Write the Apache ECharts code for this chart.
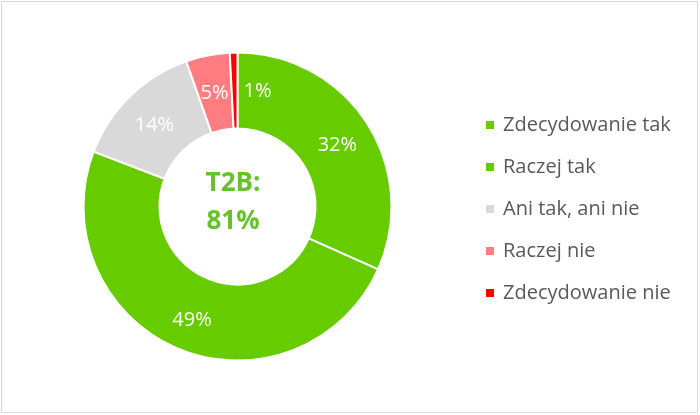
<!DOCTYPE html>
<html><head><meta charset="utf-8">
<script src="https://cdn.jsdelivr.net/npm/echarts@6/dist/echarts.min.js"></script>
<style>html,body{margin:0;padding:0;background:#fff}#c{width:700px;height:415px}</style>
</head><body><div id="c"></div>
<script>
const categories = ['Zdecydowanie tak', 'Raczej tak', 'Ani tak, ani nie', 'Raczej nie', 'Zdecydowanie nie'];
const values = [31.7, 49.1, 13.8, 4.6, 0.8];
const shownLabels = ['32%', '49%', '14%', '5%', '1%'];
const colors = ['#66CC00', '#66CC00', '#D9D9D9', '#FF7C80', '#FF0000'];
const centerText = 'T2B:\n81%';

const chart = echarts.init(document.getElementById('c'), null, {renderer: 'canvas'});
const font = '"Open Sans", sans-serif';
chart.setOption({
  animation: false,
  graphic: [{
    type: 'rect', shape: {x: 1.5, y: 1.5, width: 696, height: 411},
    style: {fill: 'none', stroke: '#D9D9D9', lineWidth: 1}
  }, {
    type: 'text', x: 233, y: 165,
    style: {text: centerText, fill: '#66C22A', font: 'bold 26px ' + font,
      align: 'center', verticalAlign: 'top', lineHeight: 38}
  }],
  legend: {
    orient: 'vertical', left: 479, top: 110, itemGap: 22,
    itemWidth: 10, itemHeight: 10, icon: 'rect',
    textStyle: {color: '#595959', fontSize: 20, fontFamily: font, padding: [0, 0, 0, 3]},
    data: categories
  },
  series: [{
    type: 'pie', center: [237.5, 206.5], radius: [78, 154],
    startAngle: 90, clockwise: true,
    itemStyle: {borderColor: '#fff', borderWidth: 2},
    label: {position: 'inside', color: '#fff', fontSize: 20, fontFamily: font, offset: [0, 4],
      formatter: p => shownLabels[p.dataIndex]},
    labelLine: {show: false},
    emphasis: {disabled: true},
    data: categories.map((n, i) => ({
      name: n, value: values[i], itemStyle: {color: colors[i]},
      label: i === 4 ? {offset: [23, 4]} : {}
    }))
  }]
});
</script></body></html>
